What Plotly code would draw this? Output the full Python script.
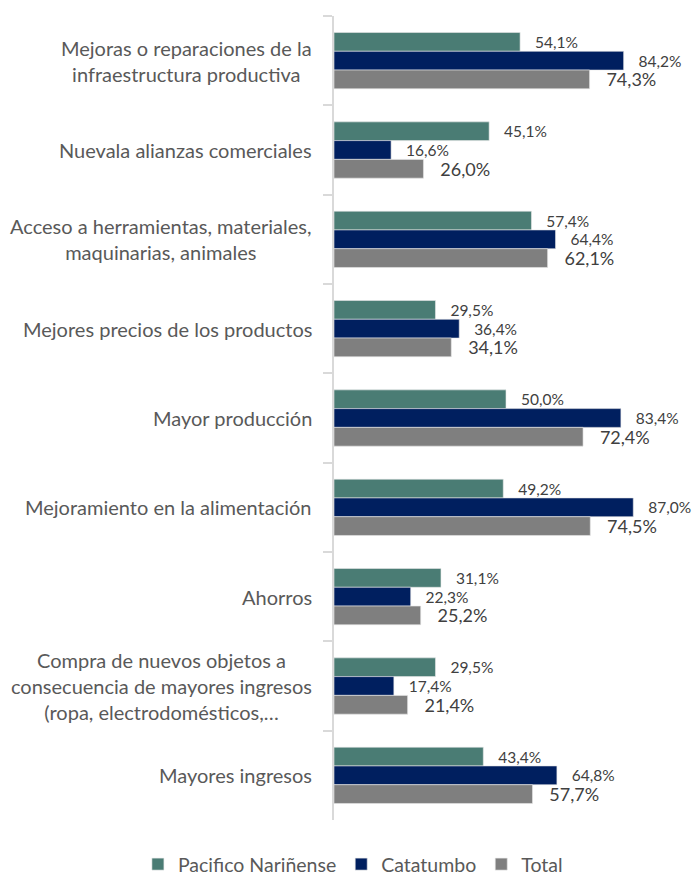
import plotly.graph_objects as go

categories = [
    "Mejoras o reparaciones de la<br>infraestructura productiva",
    "Nuevala alianzas comerciales",
    "Acceso a herramientas, materiales,<br>maquinarias, animales",
    "Mejores precios de los productos",
    "Mayor producción",
    "Mejoramiento en la alimentación",
    "Ahorros",
    "Compra de nuevos objetos a<br>consecuencia de mayores ingresos<br>(ropa, electrodomésticos,…",
    "Mayores ingresos",
]
cat_keys = [f"c{i}" for i in range(len(categories))]

pacifico = [54.1, 45.1, 57.4, 29.5, 50.0, 49.2, 31.1, 29.5, 43.4]
catatumbo = [84.2, 16.6, 64.4, 36.4, 83.4, 87.0, 22.3, 17.4, 64.8]
total = [74.3, 26.0, 62.1, 34.1, 72.4, 74.5, 25.2, 21.4, 57.7]

series = [
    ("Pacifico Nariñense", pacifico, "#4A7C74", 15.5),
    ("Catatumbo", catatumbo, "#001F5F", 15.5),
    ("Total", total, "#7F7F7F", 18),
]

FONT = "Lato, Liberation Sans, Arial, sans-serif"
NB = "\u00a0"

fig = go.Figure()
for name, vals, color, fs in series:
    fig.add_trace(go.Bar(
        y=cat_keys, x=vals, name=name, orientation="h",
        marker=dict(color=color, line=dict(color="#E8E8E8", width=0.6)),
        texttemplate=NB * 3 + "%{x:.1f}%", textposition="outside",
        constraintext="none",
        textfont=dict(size=fs, color="#404040", family=FONT),
        cliponaxis=False,
    ))

annotations = []
for key, label in zip(cat_keys, categories):
    annotations.append(dict(
        x=0, xref="paper", y=key, yref="y", text=label,
        xanchor="right", yanchor="middle", align="center", xshift=-20,
        showarrow=False, font=dict(size=20, color="#595959", family=FONT),
    ))

fig.update_layout(
    width=696, height=876,
    margin=dict(l=334, r=18, t=16, b=56, autoexpand=False),
    barmode="group", bargap=0.37, bargroupgap=0,
    plot_bgcolor="white", paper_bgcolor="white",
    separators=",.",
    font=dict(family=FONT, color="#595959"),
    xaxis=dict(range=[0, 100], showticklabels=False, showgrid=False,
               zeroline=False, showline=False, ticks=""),
    yaxis=dict(
        type="category", categoryorder="array", categoryarray=cat_keys,
        range=[8.5, -0.5], showticklabels=False,
        showline=True, linecolor="#D9D9D9", linewidth=1.5,
        ticks="outside", tickson="boundaries", ticklen=9, tickcolor="#D9D9D9",
        tickwidth=1.5, showgrid=False, zeroline=False,
    ),
    legend=dict(
        orientation="h", x=-0.57, xanchor="left",
        y=-0.031, yanchor="top",
        font=dict(size=19.5, color="#595959", family=FONT),
        traceorder="normal",
    ),
    annotations=annotations,
    showlegend=True,
)

fig.write_html(
    "out.html",
    config={"displayModeBar": False},
    post_script="document.body.style.margin='0';document.body.style.overflow='hidden';",
)
